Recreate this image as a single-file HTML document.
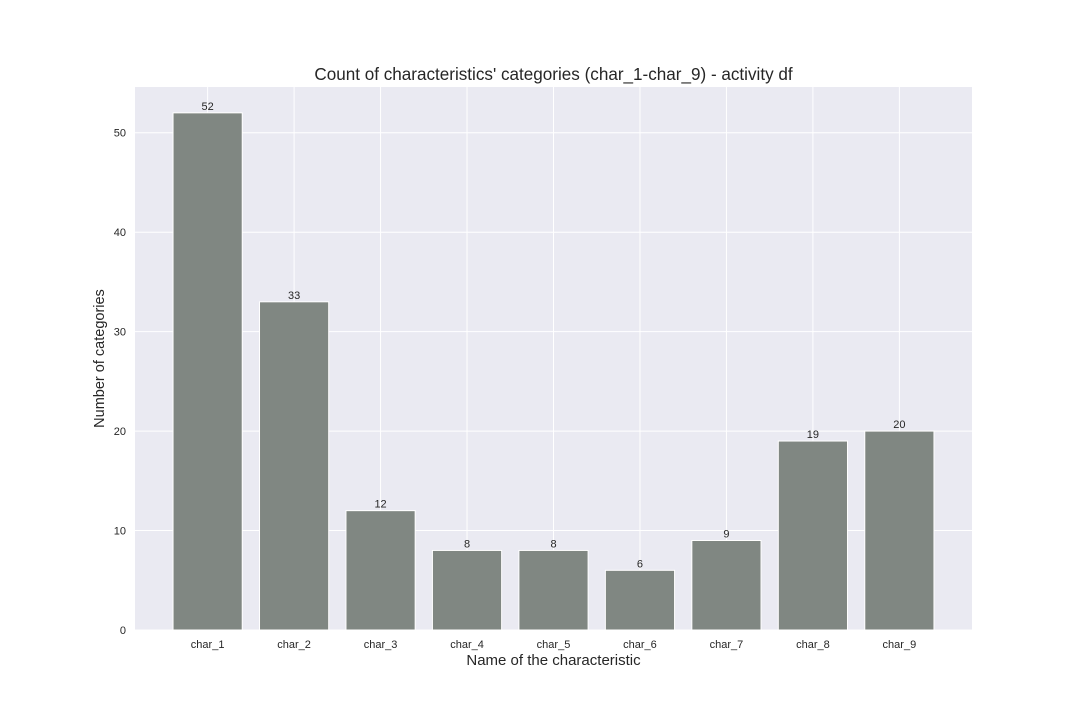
<!DOCTYPE html>
<html><head><meta charset="utf-8"><style>
body{margin:0;background:#fff;}
svg text{font-family:"Liberation Sans",sans-serif;fill:#262626;}
</style></head><body>
<svg id="chart" width="1080" height="720">
<rect x="135" y="87" width="837" height="543" fill="#eaeaf2"/>
<g id="grid"></g><g id="bars"></g><g id="labels"></g><g id="ticks"></g>
<text x="553.5" y="80" font-size="17.1" text-anchor="middle">Count of characteristics' categories (char_1-char_9) - activity df</text>
<text x="553.5" y="665" font-size="15" text-anchor="middle">Name of the characteristic</text>
<text transform="translate(104,358.5) rotate(-90)" font-size="14.5" text-anchor="middle">Number of categories</text>
</svg>
<script>
const categories=["char_1","char_2","char_3","char_4","char_5","char_6","char_7","char_8","char_9"];
const values=[52,33,12,8,8,6,9,19,20];
const yTicks=[0,10,20,30,40,50];
const L=135,R=972,T=87,B=630;
const xmin=-0.84,xmax=categories.length-1+0.84,ymax=Math.max(...values)*1.05;
const xs=i=>L+(i-xmin)/(xmax-xmin)*(R-L);
const ys=v=>B-v/ymax*(B-T);
const NS="http://www.w3.org/2000/svg";
function mk(tag,attrs,parent,txt){const e=document.createElementNS(NS,tag);for(const k in attrs)e.setAttribute(k,attrs[k]);if(txt!==undefined)e.textContent=txt;document.getElementById(parent).appendChild(e);return e;}
const bw=0.8*(xs(1)-xs(0));
yTicks.forEach(t=>{
 const g=mk('line',{x1:L,x2:R,y1:ys(t),y2:ys(t),stroke:'#fff','stroke-width':1},'grid');
 
 
 const tx=mk('text',{x:L-9,y:ys(t)+4,'font-size':11,'text-anchor':'end'},'ticks',t);
 
 
});
categories.forEach((c,i)=>{
 const g=mk('line',{x1:xs(i),x2:xs(i),y1:T,y2:B,stroke:'#fff','stroke-width':1},'grid');
 
 
 const r=mk('rect',{x:xs(i)-bw/2,y:ys(values[i]),width:bw,height:B-ys(values[i]),fill:'#808782',stroke:'#fff','stroke-width':1},'bars');
 
 
 const l=mk('text',{x:xs(i),y:ys(values[i])-3,'font-size':11,'text-anchor':'middle'},'labels',values[i]);
 
 
 const tx=mk('text',{x:xs(i),y:648,'font-size':11,'text-anchor':'middle'},'ticks',c);
 
 
});
</script>
</body></html>
